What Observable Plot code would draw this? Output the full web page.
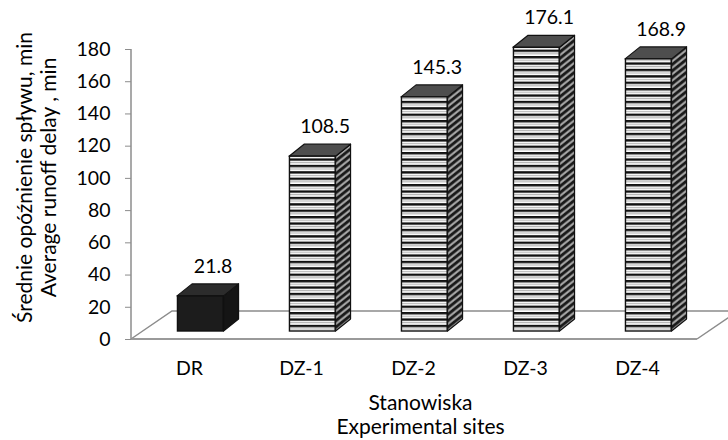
<!DOCTYPE html>
<html>
<head>
<meta charset="utf-8">
<script src="https://cdn.jsdelivr.net/npm/d3@7"></script>
<script src="https://cdn.jsdelivr.net/npm/@observablehq/plot@0.6"></script>
<style>
  html, body { margin: 0; padding: 0; background: #fff; }
</style>
</head>
<body>
<div id="chart"></div>
<script>
// Average runoff delay per experimental site
const sites = ["DR", "DZ-1", "DZ-2", "DZ-3", "DZ-4"];
const delays = [21.8, 108.5, 145.3, 176.1, 168.9];
const yTicks = [0, 20, 40, 60, 80, 100, 120, 140, 160, 180];
const xTitle = ["Stanowiska", "Experimental sites"];
const yTitle = ["Średnie opóźnienie spływu, min", "Average runoff delay , min"];
const solidSite = "DR"; // reference plot drawn as a solid dark box

const data = sites.map((site, i) => ({site, value: delays[i]}));

// 3-D look (pixels): bar depth, how far bars sit back on the floor, floor depth
const BAR_DX = 15, BAR_DY = -12;
const LIFT_DX = 11.3, LIFT_DY = -8;
const FLOOR_DX = 41, FLOOR_DY = -28;
const FACE_W = 46.5;
const FONT = 19.5;
const TITLE_FONT = 21;

// Floor, side faces, top faces and stripe patterns for the boxes
function boxes(index, scales, values, dimensions) {
  const x = scales.x, y = scales.y;
  const bw = typeof x.bandwidth === "function" ? x.bandwidth() : x.bandwidth;
  const g = d3.create("svg:g");
  const defs = g.append("defs");

  const front = defs.append("pattern").attr("id", "stripeFront")
    .attr("patternUnits", "userSpaceOnUse").attr("width", 8).attr("height", 6.4);
  front.append("rect").attr("width", 8).attr("height", 6.4).attr("fill", "#fff");
  front.append("rect").attr("width", 8).attr("height", 2.4).attr("fill", "#111");
  front.append("rect").attr("y", 3.8).attr("width", 8).attr("height", 1.0).attr("fill", "#a9a9a9");

  const side = defs.append("pattern").attr("id", "stripeSide")
    .attr("patternUnits", "userSpaceOnUse").attr("width", 8).attr("height", 6.4)
    .attr("patternTransform", `skewY(${Math.atan2(BAR_DY, BAR_DX) * 180 / Math.PI})`);
  side.append("rect").attr("width", 8).attr("height", 6.4).attr("fill", "#1a1a1a");
  side.append("rect").attr("y", 2.4).attr("width", 8).attr("height", 1.6).attr("fill", "#9a9a9a");
  side.append("rect").attr("y", 4.0).attr("width", 8).attr("height", 1.0).attr("fill", "#e6e6e6");

  // floor
  const [r0, r1] = x.range();
  const y0 = y(0);
  const fx0 = r0, fx1 = r1 + 2;
  g.append("path")
    .attr("d", `M${fx0},${y0}L${fx0 + FLOOR_DX},${y0 + FLOOR_DY}L${fx1 + FLOOR_DX},${y0 + FLOOR_DY}M${fx1},${y0}L${fx1 + FLOOR_DX},${y0 + FLOOR_DY}`)
    .attr("fill", "none").attr("stroke", "#8c8c8c").attr("stroke-width", 1.5);
  g.append("line")
    .attr("x1", fx0).attr("x2", fx1).attr("y1", y0).attr("y2", y0)
    .attr("stroke", "#9a9a9a").attr("stroke-width", 2);
  // value axis line
  const [d0, d1] = y.domain();
  g.append("line")
    .attr("x1", r0).attr("x2", r0).attr("y1", y(d0)).attr("y2", y(d1))
    .attr("stroke", "#8c8c8c").attr("stroke-width", 1.5);

  for (const d of data) {
    const solid = d.site === solidSite;
    const xl = x(d.site) + (bw - FACE_W) / 2 + LIFT_DX;
    const xr = xl + FACE_W;
    const yt = y(d.value) + LIFT_DY;
    const yb = y(0) + LIFT_DY;
    // side face
    g.append("path")
      .attr("d", `M${xr},${yt}L${xr + BAR_DX},${yt + BAR_DY}L${xr + BAR_DX},${yb + BAR_DY}L${xr},${yb}Z`)
      .attr("fill", solid ? "#151515" : "url(#stripeSide)")
      .attr("stroke", "#111").attr("stroke-width", 1.2).attr("stroke-linejoin", "round");
    // top face
    g.append("path")
      .attr("d", `M${xl},${yt}L${xr},${yt}L${xr + BAR_DX},${yt + BAR_DY}L${xl + BAR_DX},${yt + BAR_DY}Z`)
      .attr("fill", solid ? "#2c2c2c" : "#4e4e4e")
      .attr("stroke", "#111").attr("stroke-width", 1.2).attr("stroke-linejoin", "round");
  }
  return g.node();
}

const chart = Plot.plot({
  width: 728,
  height: 440,
  marginTop: 49,
  marginBottom: 101,
  marginLeft: 131,
  marginRight: 33,
  style: {fontFamily: "Lato", fontSize: `${FONT}px`, color: "#000", background: "#fff"},
  x: {domain: sites, padding: 0, label: null},
  y: {domain: [0, 180], label: null},
  marks: [
    boxes,
    Plot.barY(data.filter(d => d.site !== solidSite), {
      x: "site", y: "value",
      insetLeft: (112.8 - FACE_W) / 2, insetRight: (112.8 - FACE_W) / 2,
      dx: LIFT_DX, dy: LIFT_DY,
      fill: "url(#stripeFront)", stroke: "#111", strokeWidth: 1.4
    }),
    Plot.barY(data.filter(d => d.site === solidSite), {
      x: "site", y: "value",
      insetLeft: (112.8 - FACE_W) / 2, insetRight: (112.8 - FACE_W) / 2,
      dx: LIFT_DX, dy: LIFT_DY,
      fill: "#1c1c1c", stroke: "#111", strokeWidth: 1.4
    }),
    Plot.text(data, {
      x: "site", y: "value", text: d => d.value.toFixed(1),
      dx: 23.6, dy: -38, fontSize: FONT, fill: "#000"
    }),
    Plot.axisY(yTicks, {tickSize: 6, tickPadding: 15, stroke: "#8c8c8c", fill: "#000", fontSize: FONT, label: null}),
    Plot.axisX({tickSize: 0, tickPadding: 22, fill: "#000", fontSize: FONT, label: null}),
    Plot.text([xTitle.join("\n")], {
      frameAnchor: "bottom", lineAnchor: "top", textAnchor: "middle", dx: 7, dy: 53,
      lineHeight: 24.5 / TITLE_FONT, fontSize: TITLE_FONT, fill: "#000"
    }),
    Plot.text([yTitle.join("\n")], {
      frameAnchor: "left", textAnchor: "middle", rotate: -90, dx: -95, dy: -17,
      lineHeight: 24 / TITLE_FONT, fontSize: TITLE_FONT, fill: "#000"
    })
  ]
});

document.getElementById("chart").append(chart);
</script>
</body>
</html>
